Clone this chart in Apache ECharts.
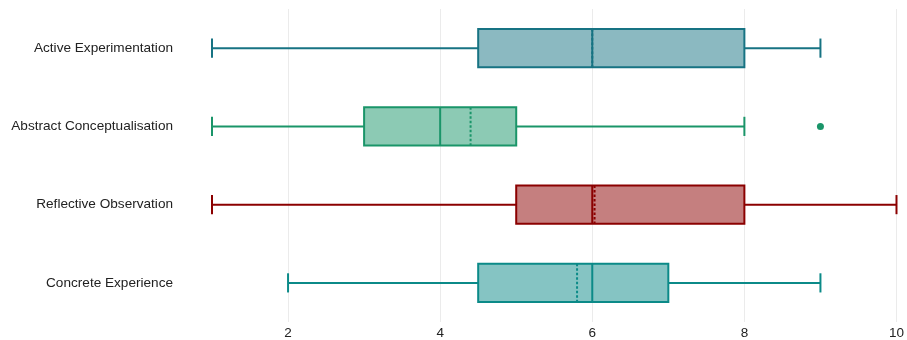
<!DOCTYPE html>
<html>
<head>
<meta charset="utf-8">
<script src="https://cdn.jsdelivr.net/npm/echarts@6/dist/echarts.min.js"></script>
<style>
  html, body { margin: 0; padding: 0; background: #ffffff; }
  #chart { width: 907px; height: 340px; }
</style>
</head>
<body>
<div id="chart"></div>
<script>
// Learning-style scores, bottom to top
var categories = ['Concrete Experience', 'Reflective Observation', 'Abstract Conceptualisation', 'Active Experimentation'];
var lowerWhisker = [2, 1, 1, 1];
var q1 = [4.5, 5, 3, 4.5];
var median = [6, 6, 4, 6];
var mean = [5.8, 6.03, 4.4, 6];
var q3 = [7, 8, 5, 8];
var upperWhisker = [9, 10, 8, 9];
var outliers = [[9, 'Abstract Conceptualisation']];
var xTicks = [2, 4, 6, 8, 10];

var strokeColors = ['#0b8a88', '#8b0000', '#1a9569', '#177383'];
var fillColors = ['rgba(11,138,136,0.5)', 'rgba(139,0,0,0.5)', 'rgba(26,149,105,0.5)', 'rgba(23,115,131,0.5)'];

var boxData = categories.map(function (c, i) {
  return [i, lowerWhisker[i], q1[i], median[i], q3[i], upperWhisker[i], mean[i]];
});

function renderBox(params, api) {
  var idx = api.value(0);
  var lo = api.coord([api.value(1), idx]);
  var a = api.coord([api.value(2), idx]);
  var md = api.coord([api.value(3), idx]);
  var b = api.coord([api.value(4), idx]);
  var hi = api.coord([api.value(5), idx]);
  var mn = api.coord([api.value(6), idx]);
  var band = api.size([0, 1])[1];
  var half = band * 0.245;
  var cap = half / 2;
  var y = lo[1];
  var stroke = strokeColors[idx];
  var ls = { stroke: stroke, lineWidth: 2, fill: null };
  return {
    type: 'group',
    children: [
      { type: 'line', shape: { x1: lo[0], y1: y, x2: a[0], y2: y }, style: ls },
      { type: 'line', shape: { x1: b[0], y1: y, x2: hi[0], y2: y }, style: ls },
      { type: 'line', shape: { x1: lo[0], y1: y - cap, x2: lo[0], y2: y + cap }, style: ls },
      { type: 'line', shape: { x1: hi[0], y1: y - cap, x2: hi[0], y2: y + cap }, style: ls },
      { type: 'rect', shape: { x: a[0], y: y - half, width: b[0] - a[0], height: half * 2 },
        style: { fill: fillColors[idx], stroke: stroke, lineWidth: 2 } },
      { type: 'line', shape: { x1: md[0], y1: y - half, x2: md[0], y2: y + half }, style: ls },
      { type: 'line', shape: { x1: mn[0], y1: y - half, x2: mn[0], y2: y + half },
        style: { stroke: stroke, lineWidth: 2, lineDash: [2.5, 2], fill: null } }
    ]
  };
}

var chart = echarts.init(document.getElementById('chart'));
chart.setOption({
  animation: false,
  backgroundColor: '#ffffff',
  grid: { left: 212, right: 9, top: 9, bottom: 18, containLabel: false },
  xAxis: {
    type: 'value',
    min: 1,
    max: 10,
    axisLine: { show: false },
    axisTick: { show: false, customValues: xTicks },
    axisLabel: { customValues: xTicks, color: '#222222', fontSize: 13.5, fontFamily: 'Liberation Sans, Arial, sans-serif', margin: 4 },
    splitLine: { show: true, lineStyle: { color: '#ebebeb', width: 1 } }
  },
  yAxis: {
    type: 'category',
    data: categories,
    boundaryGap: true,
    axisLine: { show: false },
    axisTick: { show: false },
    splitLine: { show: false },
    axisLabel: { color: '#222222', fontSize: 13.6, fontFamily: 'Liberation Sans, Arial, sans-serif', margin: 39 }
  },
  series: [
    {
      type: 'custom',
      renderItem: renderBox,
      encode: { x: [1, 2, 3, 4, 5, 6], y: 0 },
      data: boxData
    },
    {
      type: 'scatter',
      symbol: 'circle',
      symbolSize: 7,
      itemStyle: { color: '#1a9569', opacity: 1 },
      data: outliers
    }
  ]
});
</script>
</body>
</html>
